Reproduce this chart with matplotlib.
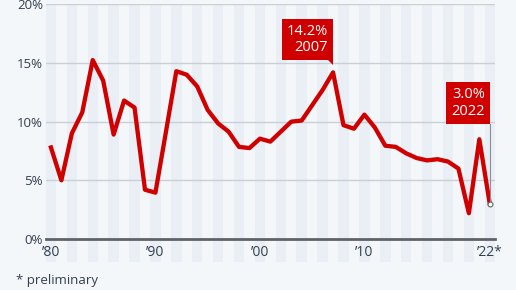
import matplotlib.pyplot as plt
import matplotlib.transforms as mtransforms
from matplotlib.patches import Polygon

plt.rcParams['font.family'] = ['Open Sans', 'DejaVu Sans']

years = list(range(1980, 2023))
rate = [7.8, 5.0, 9.0, 10.8, 15.25, 13.5, 8.9, 11.8, 11.2, 4.2,
        3.95, 9.1, 14.3, 14.0, 13.0, 11.0, 9.85, 9.15, 7.85, 7.75,
        8.55, 8.3, 9.15, 10.0, 10.1, 11.4, 12.7, 14.2, 9.7, 9.4,
        10.6, 9.5, 7.95, 7.85, 7.3, 6.9, 6.7, 6.8, 6.6, 6.0,
        2.2, 8.5, 3.0]
yticks = [0, 5, 10, 15, 20]
ytick_labels = ['0%', '5%', '10%', '15%', '20%']
xticks = [1980, 1990, 2000, 2010, 2022]
xtick_labels = ['\u201980', '\u201990', '\u201900', '\u201910', '\u201922*']
callouts = [(2007, 14.2, 12), (2022, 3.0, 80)]

bg = '#f4f7fa'
stripe = '#eaeff5'
red = '#d10000'
txt = '#333f4c'

fig = plt.figure(figsize=(5.16, 2.9), dpi=100, facecolor=bg)
ax = fig.add_axes([0.0886, 0.1759, 0.8707, 0.8091], facecolor=bg)

for yr in years[::2]:
    ax.axvspan(yr - 0.5, yr + 0.5, ymin=-0.098, ymax=1, color=stripe,
               lw=0, clip_on=False, zorder=0)
for v in yticks[1:]:
    ax.axhline(v, color='#c9cfd6', lw=1, zorder=1)
ax.axhline(0, color='#5f6368', lw=2, zorder=2, clip_on=False)

ax.plot(years, rate, color=red, lw=3.1, zorder=3, clip_on=False)

ax.set_xlim(1979.5, 2022.5)
ax.set_ylim(0, 20)
ax.set_yticks(yticks)
ax.set_yticklabels(ytick_labels)
ax.set_xticks(xticks)
ax.set_xticklabels(xtick_labels)
ax.tick_params(axis='y', length=0, pad=2, labelsize=9.5, labelcolor=txt)
ax.tick_params(axis='x', length=0, pad=4, labelsize=10, labelcolor=txt)
for s in ax.spines.values():
    s.set_visible(False)

for yr, val, off in callouts:
    pad = 5
    ax.annotate('%.1f%%\n%d' % (val, yr), xy=(yr, val),
                xytext=(-pad, off + pad), textcoords='offset pixels',
                ha='right', va='bottom', ma='right', color='white',
                fontsize=10.5, linespacing=1.15, zorder=6,
                bbox=dict(boxstyle='square,pad=0.35', fc=red, ec='none'))
    tr = mtransforms.Affine2D() + mtransforms.ScaledTranslation(yr, val, ax.transData)
    if off < 30:
        ax.add_patch(Polygon([(-5, off), (0, off), (0, off - 5)], closed=True,
                             fc=red, ec='none', transform=tr, zorder=6,
                             clip_on=False))
    else:
        ax.plot([0, 0], [0, off], color='#8a9099', lw=0.8, transform=tr,
                zorder=5, clip_on=False)
        ax.plot(yr, val, 'o', ms=3.5, mfc='white', mec='#666666', mew=0.8,
                zorder=7, clip_on=False)

fig.text(15.7 / 516, 1 - 274 / 290, '* preliminary', va='top', ha='left',
         fontsize=9.5, color=txt)

fig.savefig('out.png', dpi=100, facecolor=bg)
